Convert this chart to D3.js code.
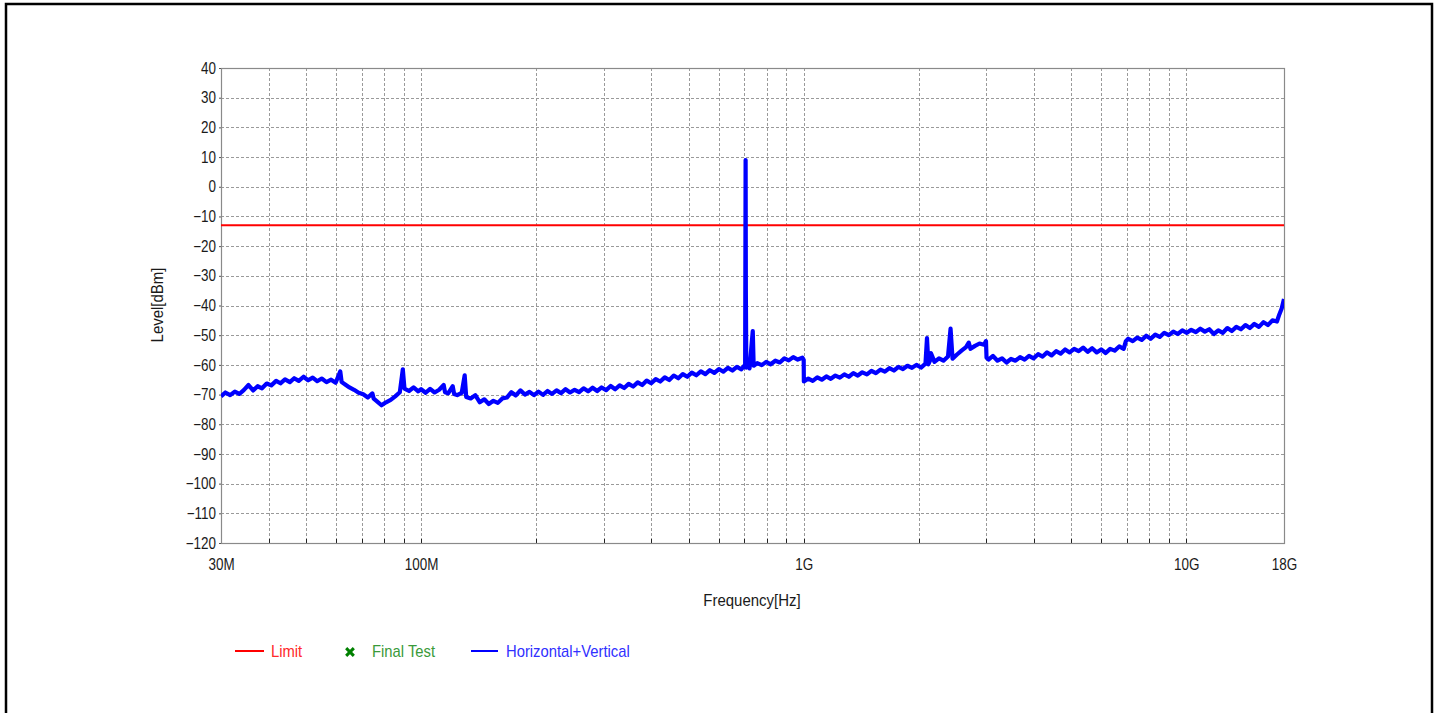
<!DOCTYPE html>
<html><head><meta charset="utf-8">
<script src="https://cdn.jsdelivr.net/npm/d3@7"></script>
<style>
body{margin:0;background:#fff}
svg{display:block}
text{font-family:"Liberation Sans Narrow","Arial Narrow","Liberation Sans",Arial,sans-serif;}
</style>
</head><body><svg id="c" width="1440" height="713"></svg>
<script>
// ---- data ----
const yTickValues = [40,30,20,10,0,-10,-20,-30,-40,-50,-60,-70,-80,-90,-100,-110,-120];
const xLabelValuesMHz = [30,100,1000,10000,18000];
const xLabelTexts = ["30M","100M","1G","10G","18G"];
const limitLevel = -13;
const legendLabels = ["Limit","Final Test","Horizontal+Vertical"];

// trace (frequency in MHz, level in dBm)
const seg30to100 = [
[30,-70.6],[30.8,-69.3],[31.7,-70.2],[32.6,-69.0],[33.5,-69.8],[34.4,-68.5],[35.4,-66.8],[36.4,-68.6],
[37.4,-67.2],[38.4,-67.9],[39.5,-66.3],[40.6,-66.9],[41.8,-65.4],[42.9,-66.2],[44.1,-64.9],[45.4,-65.8],
[46.6,-64.5],[47.9,-65.4],[49.3,-64.0],[50.7,-65.2],[52.1,-64.3],[53.5,-65.5],[55.0,-64.6],[56.6,-65.8],
[58.2,-65.0],[59.8,-66.0],[61.5,-62.2],[62.0,-65.8],[63.2,-66.5],[65.0,-67.6],[66.8,-68.4],[68.7,-69.4],
[70.6,-69.9],[72.6,-71.0],[74.6,-69.6],[75.2,-71.4],[76.7,-72.3],[78.8,-73.6],[81.0,-72.6],[83.3,-71.8],
[85.6,-70.6],[88.0,-69.2],[89.6,-61.5],[90.5,-68.0],[93.0,-68.8],[95.6,-67.6],[98.3,-68.9],[100,-68.2]
];
const seg100to1000 = [
[102.8,-69.4],[105.6,-68.1],[108.5,-69.3],[111.5,-68.4],[114.6,-66.8],[115.5,-69.2],[117.7,-69.6],[121,-67.2],
[122,-69.8],[124.3,-70.2],[127.7,-69.4],[130,-63.5],[131.2,-70.8],[134.8,-71.3],[138.6,-70.2],[142.4,-72.6],
[146.3,-71.6],[150.3,-73.2],[154.5,-72.1],[158.7,-72.8],[163.1,-71.3],[167.6,-71.0],[172.2,-69.2],[176.9,-70.3],
[181.8,-68.6],[186.8,-70.0],[192,-69.1],[197.3,-70.2],[202.7,-69.0],[208.3,-70.1],[214,-68.8],[219.9,-69.8],
[226,-68.6],[232.2,-69.5],[238.6,-68.2],[245.1,-69.3],[251.9,-68.4],[258.8,-69.2],[265.9,-67.9],[273.2,-68.9],
[280.8,-67.7],[288.5,-68.8],[296.4,-67.6],[304.6,-68.5],[313,-67.1],[321.6,-68.2],[330.4,-66.9],[339.5,-67.8],
[348.8,-66.4],[358.4,-67.3],[368.3,-65.9],[378.4,-66.8],[388.8,-65.3],[399.5,-66.2],[410.5,-64.8],[421.8,-65.6],
[433.4,-64.2],[445.3,-65.1],[457.6,-63.6],[470.2,-64.5],[483.1,-63.1],[496.4,-64.0],[510,-62.6],[524.1,-63.5],
[538.5,-62.2],[553.3,-63.1],[568.5,-61.8],[584.1,-62.7],[600.2,-61.4],[616.7,-62.3],[633.7,-61.0],[651.1,-61.9],
[669,-60.7],[687.4,-61.5],[700,-60.2],[703,-60.8],[705,9.0],[706,-35.0],[708,-60.9],[716,-60.0],[722,-61.2],
[736,-48.6],[740,-60.3],[756,-59.4],[777,-60.1],[798,-59.0],[820,-59.8],[843,-58.6],[866,-59.2],[890,-57.8],
[914,-58.5],[939,-57.4],[965,-58.2],[992,-57.6],[1000,-58.3]
];
const seg1000to18000 = [
[1001,-65.6],[1028,-64.6],[1056,-65.4],[1085,-64.2],[1115,-65.0],[1146,-63.9],[1177,-64.7],[1210,-63.6],
[1243,-64.3],[1277,-63.2],[1312,-64.0],[1348,-62.8],[1385,-63.6],[1423,-62.5],[1463,-63.2],[1503,-62.0],
[1544,-62.8],[1587,-61.6],[1630,-62.3],[1675,-61.1],[1721,-61.9],[1769,-60.7],[1817,-61.4],[1867,-60.3],
[1919,-61.0],[1971,-60.0],[2026,-60.9],[2081,-59.6],[2100,-51.0],[2118,-59.8],[2138,-58.6],[2150,-56.0],
[2197,-59.0],[2257,-57.8],[2319,-58.6],[2383,-57.2],[2420,-47.8],[2449,-57.9],[2516,-56.5],[2585,-55.2],
[2656,-54.0],[2700,-52.5],[2729,-54.6],[2804,-53.6],[2881,-52.8],[2960,-53.2],[2995,-52.0],[3005,-57.6],
[3041,-58.2],[3124,-57.0],[3210,-58.6],[3299,-57.8],[3389,-59.2],[3482,-58.0],[3578,-58.6],[3677,-57.4],
[3778,-58.2],[3881,-57.0],[3988,-57.8],[4098,-56.4],[4211,-57.2],[4326,-55.8],[4445,-56.8],[4567,-55.4],
[4693,-56.2],[4822,-54.8],[4955,-55.8],[5091,-54.6],[5231,-55.4],[5375,-54.2],[5522,-55.6],[5674,-54.4],
[5830,-55.8],[5990,-54.8],[6155,-56.0],[6324,-54.6],[6498,-55.2],[6677,-53.8],[6860,-54.6],[6950,-52.0],
[7049,-51.2],[7243,-52.0],[7442,-50.8],[7646,-51.6],[7856,-50.2],[8072,-51.2],[8294,-49.8],[8522,-50.6],
[8757,-49.2],[8997,-50.0],[9245,-48.8],[9499,-49.6],[9760,-48.4],[10030,-49.2],[10300,-48.2],[10590,-49.0],
[10880,-47.8],[11180,-48.8],[11480,-48.0],[11800,-49.6],[12120,-48.4],[12460,-49.2],[12800,-47.6],[13150,-48.6],
[13510,-47.2],[13890,-48.0],[14270,-46.6],[14660,-47.6],[15060,-46.2],[15480,-47.2],[15910,-45.6],[16340,-46.6],
[16790,-45.0],[17250,-45.4],[17500,-43.0],[17750,-41.0],[18000,-37.8]
];

// ---- drawing ----
const svg = d3.select("#c");
const L = 221, R = 1284, T = 68, B = 543;
const x = d3.scaleLog().domain([30, 18000]).range([L, R]);
const y = d3.scaleLinear().domain([-120, 40]).range([B, T]);
const FONT = '"Liberation Sans Narrow","Arial Narrow","Liberation Sans",Arial,sans-serif';

function condense(sel, f) {
  sel.each(function () {
    const w = this.getComputedTextLength();
    d3.select(this).attr("textLength", w * f).attr("lengthAdjust", "spacingAndGlyphs");
  });
}

// outer frame
svg.append("rect").attr("x", 6).attr("y", 4).attr("width", 1426).attr("height", 730)
  .attr("fill", "none").attr("stroke", "#000").attr("stroke-width", 2.5);

// minor x grid values
const xGrid = [];
[10, 100, 1000, 10000].forEach(d => { for (let m = 1; m <= 9; m++) { const v = m * d; if (v > 30 && v < 18000) xGrid.push(v); } });

const grid = svg.append("g");
grid.selectAll("line.v").data(xGrid).join("line")
  .attr("x1", d => Math.round(x(d)) + 0.5).attr("x2", d => Math.round(x(d)) + 0.5)
  .attr("y1", T).attr("y2", B)
  .attr("stroke", "#9a9a9a").attr("stroke-width", 1).attr("stroke-dasharray", "3,2");
grid.selectAll("line.h").data(yTickValues.filter(v => v > -120 && v < 40)).join("line")
  .attr("x1", L).attr("x2", R)
  .attr("y1", d => Math.round(y(d)) + 0.5).attr("y2", d => Math.round(y(d)) + 0.5)
  .attr("stroke", "#9a9a9a").attr("stroke-width", 1).attr("stroke-dasharray", "3,2");

// bottom inner ticks
grid.selectAll("line.t").data(xGrid).join("line")
  .attr("x1", d => Math.round(x(d)) + 0.5).attr("x2", d => Math.round(x(d)) + 0.5)
  .attr("y1", B - 4).attr("y2", B)
  .attr("stroke", "#222").attr("stroke-width", 1);

// plot box
svg.append("rect").attr("x", L + 0.5).attr("y", T + 0.5).attr("width", R - L).attr("height", B - T)
  .attr("fill", "none").attr("stroke", "#8a8a8a").attr("stroke-width", 1.2);

// y axis labels
const yAxis = d3.axisLeft(y).tickValues(yTickValues).tickSize(2).tickPadding(3).tickFormat(d3.format("d"));
const gy = svg.append("g").attr("transform", `translate(${L},0)`).call(yAxis);
gy.select(".domain").remove();
gy.selectAll("line").attr("stroke", "#555");
gy.selectAll("text").attr("font-size", 16).attr("fill", "#1a1a1a").attr("font-family", FONT);
condense(gy.selectAll("text"), 0.84);

// x axis labels
const xAxis = d3.axisBottom(x).tickValues(xLabelValuesMHz).tickSize(0).tickPadding(16)
  .tickFormat((d, i) => xLabelTexts[i]);
const gx = svg.append("g").attr("transform", `translate(0,${B})`).call(xAxis);
gx.select(".domain").remove();
gx.selectAll("text").attr("font-size", 16).attr("fill", "#1a1a1a").attr("font-family", FONT);
condense(gx.selectAll("text"), 0.84);

// axis titles
const xt = svg.append("text").attr("x", 752).attr("y", 606).attr("text-anchor", "middle")
  .attr("font-size", 17).attr("fill", "#1a1a1a").text("Frequency[Hz]");
const yt = svg.append("text").attr("transform", "translate(163,305) rotate(-90)").attr("text-anchor", "middle")
  .attr("font-size", 17).attr("fill", "#1a1a1a").text("Level[dBm]");
condense(xt, 0.88);
condense(yt, 0.88);

// clip
svg.append("clipPath").attr("id", "clip").append("rect").attr("x", L).attr("y", T).attr("width", R - L).attr("height", B - T);

// limit line
svg.append("line").attr("clip-path", "url(#clip)")
  .attr("x1", x(30)).attr("x2", x(18000)).attr("y1", y(limitLevel)).attr("y2", y(limitLevel))
  .attr("stroke", "#ff0000").attr("stroke-width", 2);

// trace
const trace = seg30to100.concat(seg100to1000, seg1000to18000);
const line = d3.line().x(d => x(d[0])).y(d => y(d[1]));
svg.append("path").datum(trace).attr("clip-path", "url(#clip)")
  .attr("d", line).attr("fill", "none").attr("stroke", "#0000ff")
  .attr("stroke-width", 4.2).attr("stroke-linejoin", "round");

// legend
const lg = svg.append("g");
const ly = 651;
lg.append("line").attr("x1", 235).attr("x2", 264).attr("y1", ly).attr("y2", ly).attr("stroke", "#ff0000").attr("stroke-width", 2);
lg.append("text").attr("x", 271).attr("y", ly + 6).attr("font-size", 17).attr("fill", "#ff2a2a").text(legendLabels[0]);
lg.append("path").attr("d", d3.symbol(d3.symbolX, 40)()).attr("transform", `translate(350,${ly + 1})`)
  .attr("fill", "none").attr("stroke", "#008000").attr("stroke-width", 3);
lg.append("text").attr("x", 372).attr("y", ly + 6).attr("font-size", 17).attr("fill", "#3a9a3a").text(legendLabels[1]);
lg.append("line").attr("x1", 471).attr("x2", 498).attr("y1", ly).attr("y2", ly).attr("stroke", "#0000ff").attr("stroke-width", 2);
lg.append("text").attr("x", 506).attr("y", ly + 6).attr("font-size", 17).attr("fill", "#3030ff").text(legendLabels[2]);
condense(lg.selectAll("text"), 0.87);
</script>
</body></html>
